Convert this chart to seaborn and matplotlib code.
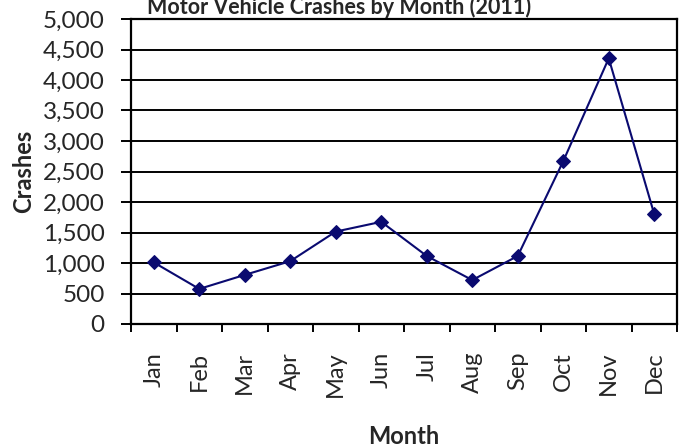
import matplotlib
matplotlib.use("Agg")
import matplotlib.pyplot as plt
import seaborn as sns
import numpy as np
import pandas as pd
from matplotlib.ticker import FuncFormatter, FixedLocator

months = ["Jan", "Feb", "Mar", "Apr", "May", "Jun", "Jul", "Aug", "Sep", "Oct", "Nov", "Dec"]
crashes = [1010, 575, 805, 1030, 1515, 1675, 1115, 720, 1115, 2670, 4355, 1800]
y_ticks = [0, 500, 1000, 1500, 2000, 2500, 3000, 3500, 4000, 4500, 5000]

sns.set_style("white")
plt.rcParams['font.family'] = ['Lato', 'DejaVu Sans']

df = pd.DataFrame({"Month": months, "Crashes": crashes})

fig = plt.figure(figsize=(6.79, 4.47), dpi=100)
ax = fig.add_axes([131/679, 1-324/447, (677-131)/679, (324-19)/447])

color = "#0A0A70"
sns.lineplot(data=df, x="Month", y="Crashes", sort=False, ax=ax, color=color,
             marker="D", markersize=7, linewidth=1.5, markeredgecolor=color)

ax.set_xlim(-0.5, 11.5)
ax.set_ylim(0, 5000)
ax.set_yticks(y_ticks)
ax.yaxis.set_major_formatter(FuncFormatter(lambda v, p: f"{int(v):,}"))
ax.grid(axis="y", color="black", linewidth=1.4)
ax.set_axisbelow(True)

ax.set_xticks(range(len(months)))
ax.set_xticklabels(months, rotation=90)
ax.xaxis.set_minor_locator(FixedLocator(np.arange(-0.5, 12, 1)))
ax.tick_params(axis="x", which="major", length=0, pad=20, labelsize=17)
ax.tick_params(axis="x", which="minor", length=6, width=1.4, direction="out", color="black", bottom=True)
ax.tick_params(axis="y", which="major", length=7, width=1.4, direction="out", color="black", left=True, labelsize=17.5, pad=12)

for s in ["left", "bottom", "right", "top"]:
    ax.spines[s].set_visible(True)
    ax.spines[s].set_color("black")
    ax.spines[s].set_linewidth(1.6)

ax.set_xlabel("Month", fontsize=17, fontweight="bold", va="center")
ax.xaxis.set_label_coords(0.5, (324-437)/305)
ax.set_ylabel("Crashes", fontsize=17, fontweight="bold", va="center")
ax.yaxis.set_label_coords((24-131)/546, 0.5)
fig.text(0.5, 1-14/447, "Motor Vehicle Crashes by Month (2011)", ha="center", va="baseline",
         fontsize=15.5, fontweight="bold")

fig.savefig("out.png", dpi=100)
